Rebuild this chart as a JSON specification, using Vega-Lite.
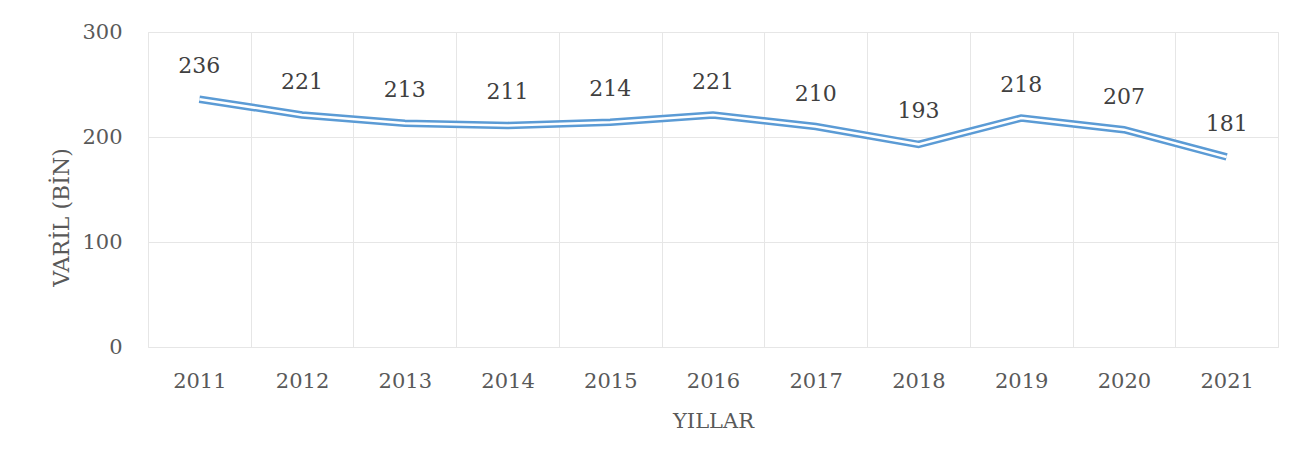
{
  "$schema": "https://vega.github.io/schema/vega-lite/v6.json",
  "autosize": {"type": "none"},
  "width": 1130,
  "height": 315,
  "padding": {"left": 148, "top": 32, "right": 36, "bottom": 121},
  "background": "white",
  "config": {
    "view": {"stroke": "#E6E6E6", "strokeWidth": 1},
    "font": "DejaVu Serif",
    "axis": {"labelFont": "DejaVu Serif", "titleFont": "DejaVu Serif", "labelColor": "#595959", "titleColor": "#595959", "titleFontWeight": "normal", "gridColor": "#E6E6E6", "gridWidth": 1, "domain": false, "ticks": false}
  },
  "data": {"values": [
    {"year": "2011", "value": 236},
    {"year": "2012", "value": 221},
    {"year": "2013", "value": 213},
    {"year": "2014", "value": 211},
    {"year": "2015", "value": 214},
    {"year": "2016", "value": 221},
    {"year": "2017", "value": 210},
    {"year": "2018", "value": 193},
    {"year": "2019", "value": 218},
    {"year": "2020", "value": 207},
    {"year": "2021", "value": 181}
  ]},
  "encoding": {
    "x": {"field": "year", "type": "ordinal", "scale": {"paddingInner": 0, "paddingOuter": 0},
      "axis": {"title": "YILLAR", "labelAngle": 0, "labelFontSize": 21, "labelPadding": 23, "tickBand": "extent", "grid": true, "titleFontSize": 21, "titleY": 74, "titleBaseline": "middle"}},
    "y": {"field": "value", "type": "quantitative", "scale": {"domain": [0, 300], "nice": false},
      "axis": {"title": "VARİL (BİN)", "values": [0, 100, 200, 300], "labelFontSize": 21, "labelPadding": 26, "titleFontSize": 22, "titleX": -87, "titleY": 185, "titleBaseline": "middle", "titleAlign": "center"}}
  },
  "layer": [
    {"mark": {"type": "line", "color": "#5B9BD5", "strokeWidth": 7.5}},
    {"mark": {"type": "line", "color": "white", "strokeWidth": 2.5}},
    {"mark": {"type": "text", "dy": -33, "fontSize": 22, "color": "#404040", "font": "DejaVu Serif"},
      "encoding": {"text": {"field": "value", "type": "quantitative"}}}
  ]
}
